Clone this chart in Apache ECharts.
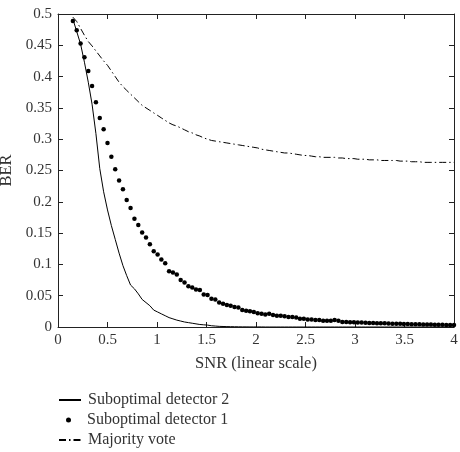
<!DOCTYPE html>
<html><head><meta charset="utf-8">
<script src="https://cdn.jsdelivr.net/npm/echarts@6/dist/echarts.min.js"></script>
<style>html,body{margin:0;padding:0;background:#fff}#c{width:460px;height:452px}</style>
</head><body><div id="c"></div>
<script>
var snr = [0.150,0.189,0.228,0.267,0.306,0.344,0.383,0.422,0.461,0.500,
0.539,0.578,0.617,0.656,0.694,0.733,0.772,0.811,0.850,0.889,
0.928,0.967,1.006,1.044,1.083,1.122,1.161,1.200,1.239,1.278,
1.317,1.356,1.394,1.433,1.472,1.511,1.550,1.589,1.628,1.667,
1.706,1.744,1.783,1.822,1.861,1.900,1.939,1.978,2.017,2.056,
2.094,2.133,2.172,2.211,2.250,2.289,2.328,2.367,2.406,2.444,
2.483,2.522,2.561,2.600,2.639,2.678,2.717,2.756,2.794,2.833,
2.872,2.911,2.950,2.989,3.028,3.067,3.106,3.144,3.183,3.222,
3.261,3.300,3.339,3.378,3.417,3.456,3.494,3.533,3.572,3.611,
3.650,3.689,3.728,3.767,3.806,3.844,3.883,3.922,3.961,4.000];

var det2 = [0.492,0.472,0.452,0.423,0.391,0.356,0.309,0.253,0.216,0.187,
0.162,0.140,0.118,0.098,0.082,0.067,0.061,0.053,0.044,0.039,
0.034,0.027,0.024,0.021,0.018,0.015,0.013,0.011,0.0095,0.008,
0.007,0.006,0.005,0.004,0.0035,0.003,0.002,0.0015,0.001,0.0008,
0.0006,0.0005,0.0004,0.0003,0.0002,0.0002,0.0001,0.0001,0.0001,0.0001,
0,0,0,0,0,0,0,0,0,0,
0,0,0,0,0,0,0,0,0,0,
0,0,0,0,0,0,0,0,0,0,
0,0,0,0,0,0,0,0,0,0,
0,0,0,0,0,0,0,0,0,0];

var det1 = [0.489,0.474,0.453,0.431,0.409,0.385,0.359,0.334,0.316,0.294,
0.272,0.252,0.234,0.220,0.203,0.190,0.173,0.163,0.151,0.143,
0.132,0.121,0.116,0.108,0.102,0.089,0.087,0.084,0.075,0.071,
0.065,0.063,0.060,0.059,0.052,0.051,0.045,0.044,0.039,0.037,
0.035,0.034,0.032,0.031,0.027,0.026,0.025,0.024,0.022,0.021,
0.020,0.021,0.019,0.018,0.018,0.017,0.016,0.016,0.015,0.013,
0.013,0.012,0.012,0.011,0.011,0.010,0.010,0.010,0.011,0.010,
0.008,0.008,0.0075,0.0075,0.007,0.007,0.0068,0.0065,0.0063,0.006,
0.006,0.0058,0.0055,0.0053,0.005,0.005,0.0048,0.0046,0.0045,0.0043,
0.0042,0.004,0.004,0.0038,0.0036,0.0035,0.0034,0.0033,0.0032,0.003];

var majority = [0.495,0.488,0.477,0.466,0.456,0.449,0.441,0.433,0.425,0.418,
0.409,0.400,0.391,0.384,0.378,0.372,0.366,0.360,0.354,0.350,
0.346,0.342,0.338,0.334,0.330,0.326,0.323,0.321,0.318,0.315,
0.312,0.310,0.307,0.305,0.302,0.300,0.298,0.297,0.296,0.295,
0.294,0.293,0.292,0.291,0.290,0.289,0.288,0.287,0.286,0.284,
0.283,0.282,0.281,0.280,0.279,0.278,0.278,0.277,0.276,0.275,
0.274,0.274,0.273,0.272,0.272,0.271,0.271,0.271,0.271,0.270,
0.270,0.269,0.269,0.269,0.268,0.268,0.268,0.267,0.267,0.267,
0.266,0.266,0.266,0.266,0.266,0.265,0.265,0.265,0.264,0.264,
0.264,0.263,0.263,0.263,0.263,0.263,0.263,0.263,0.263,0.263];

var xTicks = [0,0.5,1,1.5,2,2.5,3,3.5,4];
var yTicks = [0,0.05,0.1,0.15,0.2,0.25,0.3,0.35,0.4,0.45,0.5];
var names = ['Suboptimal detector 2','Suboptimal detector 1','Majority vote'];

function pairs(ys){ return snr.map(function(x,i){ return [x, ys[i]]; }); }

var FONT = 'Liberation Serif';
function txt(extra){ return Object.assign({fontFamily: FONT, fontSize: 15, color: '#333'}, extra || {}); }
function tick(){ return {show: true, inside: true, length: 5, lineStyle: {color: '#222', width: 1}}; }
function line(){ return {show: true, onZero: false, lineStyle: {color: '#222', width: 1}}; }
var noSym = {opacity: 0, color: 'rgba(0,0,0,0)', borderWidth: 0};

var chart = echarts.init(document.getElementById('c'), null, {renderer: 'canvas'});
chart.setOption({
  animation: false,
  backgroundColor: '#fff',
  grid: {left: 58, right: 6, top: 14, bottom: 125, containLabel: false, outerBoundsMode: 'none'},
  xAxis: [{
    type: 'value', min: 0, max: 4, interval: 0.5, position: 'bottom',
    name: 'SNR (linear scale)', nameLocation: 'middle', nameGap: 28,
    nameTextStyle: txt({fontSize: 16.5}),
    axisLine: line(), axisTick: tick(), splitLine: {show: false},
    axisLabel: txt({margin: 6})
  }, {
    type: 'value', min: 0, max: 4, interval: 0.5, position: 'top',
    axisLine: line(), axisTick: tick(), splitLine: {show: false}, axisLabel: {show: false}
  }],
  yAxis: [{
    type: 'value', min: 0, max: 0.5, interval: 0.05, position: 'left',
    name: 'BER', nameLocation: 'middle', nameGap: 38, nameRotate: 90,
    nameTextStyle: txt({fontSize: 16.5}),
    axisLine: line(), axisTick: tick(), splitLine: {show: false},
    axisLabel: txt({margin: 6})
  }, {
    type: 'value', min: 0, max: 0.5, interval: 0.05, position: 'right',
    axisLine: line(), axisTick: tick(), splitLine: {show: false}, axisLabel: {show: false}
  }],
  legend: [{
    data: [{name: names[0], itemStyle: noSym}], orient: 'vertical', left: 58, top: 392, padding: 0,
    itemWidth: 22, itemHeight: 14, textStyle: txt({fontSize: 16, padding: [0,0,0,2]})
  }, {
    data: [names[1]], orient: 'vertical', left: 66, top: 412, padding: 0,
    itemWidth: 5, itemHeight: 5, textStyle: txt({fontSize: 16, padding: [0,0,0,11]})
  }, {
    data: [{name: names[2], itemStyle: noSym}], orient: 'vertical', left: 58, top: 432, padding: 0,
    itemWidth: 22, itemHeight: 14, textStyle: txt({fontSize: 16, padding: [0,0,0,2]})
  }],
  series: [{
    name: names[0], type: 'line', data: pairs(det2), symbol: 'none',
    lineStyle: {color: '#000', width: 1}, itemStyle: {color: '#000'}
  }, {
    name: names[1], type: 'scatter', data: pairs(det1), symbol: 'circle', symbolSize: 4.5,
    symbolKeepAspect: true, itemStyle: {color: '#000', opacity: 1}
  }, {
    name: names[2], type: 'line', data: pairs(majority), symbol: 'none',
    lineStyle: {color: '#000', width: 1, type: [7, 3, 1.5, 3]}, itemStyle: {color: '#000'}
  }]
});
</script></body></html>
